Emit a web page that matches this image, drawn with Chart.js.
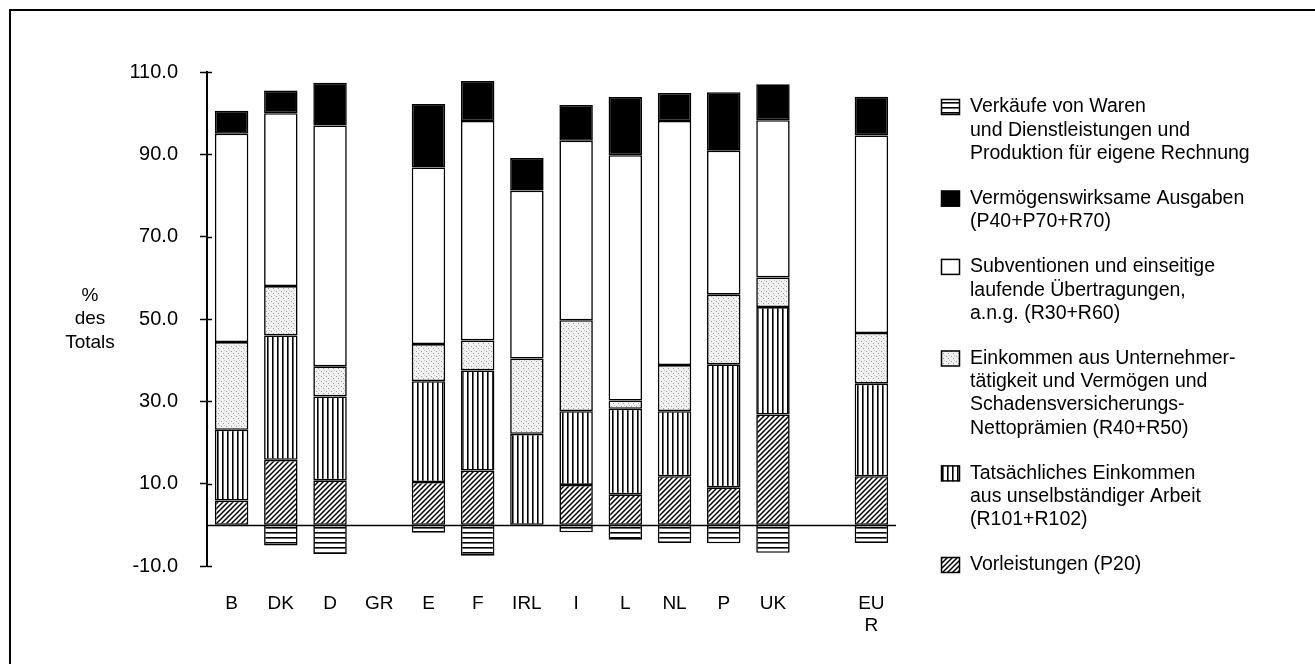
<!DOCTYPE html>
<html>
<head>
<meta charset="utf-8">
<script src="https://cdn.jsdelivr.net/npm/chart.js@4/dist/chart.umd.min.js"></script>
<style>
  html, body { margin: 0; padding: 0; background: #fff; }
  #wrap { position: relative; width: 1315px; height: 664px; }
</style>
</head>
<body>
<div id="wrap"><canvas id="chart" width="1315" height="664"></canvas></div>
<script>
// categories (GR has no data, empty slot before EUR)
const countries = ['B', 'DK', 'D', 'GR', 'E', 'F', 'IRL', 'I', 'L', 'NL', 'P', 'UK', '', ['EU', 'R']];

// % des Totals
const vorleistungen = [5.9, 15.8, 10.8, null, 10.4, 13.2, null, 9.7, 7.4, 11.8, 9.1, 26.8, null, 11.8];
const arbeit        = [17.2, 30.2, 20.4, null, 24.5, 24.3, 22.1, 17.9, 20.8, 15.8, 29.9, 26.1, null, 22.5];
const einkommen     = [21.3, 12.0, 7.3, null, 9.0, 7.3, 18.3, 22.1, 2.0, 11.2, 16.9, 7.2, null, 12.3];
const subventionen  = [50.6, 42.0, 58.5, null, 42.9, 53.3, 40.8, 43.6, 59.6, 59.3, 35.0, 38.2, null, 48.0];
const vermoegen     = [5.6, 5.5, 10.4, null, 15.4, 9.7, 7.9, 8.7, 14.1, 6.8, 14.2, 8.7, null, 9.4];
const verkaeufe     = [null, -5.0, -7.1, null, -1.9, -7.5, null, -1.8, -3.6, -4.4, -4.5, -6.8, null, -4.4];

const yTicks = [-10, 10, 30, 50, 70, 90, 110];
const yTitle = ['%', 'des', 'Totals'];

// legend texts, top to bottom as in the original
const legendVerkaeufe = ['Verkäufe von Waren', 'und Dienstleistungen und', 'Produktion für eigene Rechnung'];
const legendVermoegen = ['Vermögenswirksame Ausgaben', '(P40+P70+R70)'];
const legendSubventionen = ['Subventionen und einseitige', 'laufende Übertragungen,', 'a.n.g. (R30+R60)'];
const legendEinkommen = ['Einkommen aus Unternehmer-', 'tätigkeit und Vermögen und', 'Schadensversicherungs-', 'Nettoprämien (R40+R50)'];
const legendArbeit = ['Tatsächliches Einkommen', 'aus unselbständiger Arbeit', '(R101+R102)'];
const legendVorleistungen = ['Vorleistungen (P20)'];

const FONT = '"Liberation Sans", Arial, Helvetica, sans-serif';

const canvas = document.getElementById('chart');
const ctx = canvas.getContext('2d');

// black & white fill patterns like the printed original
function makePattern(kind) {
    const t = document.createElement('canvas');
    t.width = 5; t.height = 5;
    const g = t.getContext('2d');
    g.fillStyle = '#fff';
    g.fillRect(0, 0, 5, 5);
    g.fillStyle = '#000';
    g.strokeStyle = '#000';
    if (kind === 'vertical') {
        g.fillRect(2, 0, 1.6, 5);
    } else if (kind === 'horizontal') {
        g.fillRect(0, 2, 5, 1.6);
    } else if (kind === 'hatch') {
        g.lineWidth = 1.5;
        g.beginPath();
        g.moveTo(0, 5); g.lineTo(5, 0);
        g.moveTo(-1, 1); g.lineTo(1, -1);
        g.moveTo(4, 6); g.lineTo(6, 4);
        g.stroke();
    } else if (kind === 'dots') {
        g.fillStyle = '#f1f1f1';
        g.fillRect(0, 0, 5, 5);
        g.fillStyle = '#9a9a9a';
        g.fillRect(1, 1, 1, 1);
        g.fillRect(3, 3, 1, 1);
        g.fillStyle = '#c8c8c8';
        g.fillRect(4, 0, 1, 1);
    }
    return ctx.createPattern(t, 'repeat');
}

const fills = {
    hatch: makePattern('hatch'),
    vertical: makePattern('vertical'),
    dots: makePattern('dots'),
    white: '#fff',
    black: '#000',
    horizontal: makePattern('horizontal')
};

function ds(label, data, fill) {
    return {
        label: label,
        data: data,
        backgroundColor: fill,
        borderColor: '#000',
        borderWidth: 1.6,
        borderSkipped: false,
        stack: 's'
    };
}

const legendGroups = [
    { text: legendVerkaeufe, fill: fills.horizontal },
    { text: legendVermoegen, fill: fills.black },
    { text: legendSubventionen, fill: fills.white },
    { text: legendEinkommen, fill: fills.dots },
    { text: legendArbeit, fill: fills.vertical },
    { text: legendVorleistungen, fill: fills.hatch }
];

const extras = {
    id: 'extras',
    beforeDatasetsDraw(chart) {
        // zero line
        const c = chart.ctx, a = chart.chartArea, y = chart.scales.y;
        const y0 = Math.round(y.getPixelForValue(0)) + 0.5;
        c.save();
        c.strokeStyle = '#000';
        c.lineWidth = 1.3;
        c.beginPath();
        c.moveTo(a.left, y0);
        c.lineTo(a.right, y0);
        c.stroke();
        c.restore();
    },
    afterDraw(chart) {
        const c = chart.ctx, a = chart.chartArea, y = chart.scales.y;
        c.save();
        // frame
        c.strokeStyle = '#000';
        c.lineWidth = 2;
        c.beginPath();
        c.moveTo(10, 664);
        c.lineTo(10, 10);
        c.lineTo(1315, 10);
        c.stroke();

        // inner halves of y ticks
        c.lineWidth = 1.5;
        yTicks.forEach(v => {
            const py = Math.round(y.getPixelForValue(v)) + 0.5;
            c.beginPath();
            c.moveTo(a.left, py);
            c.lineTo(a.left + 5, py);
            c.stroke();
        });

        // y title
        c.fillStyle = '#000';
        c.font = '19px ' + FONT;
        c.textAlign = 'center';
        c.textBaseline = 'middle';
        const ym = y.getPixelForValue(50);
        yTitle.forEach((t, i) => c.fillText(t, 90, ym + (i - 1) * 23.5));

        // legend
        c.font = '19.5px ' + FONT;
        c.textAlign = 'left';
        const lx = a.right + 74;
        const sx = a.right + 45;
        const lineH = 23.3;
        const gap = 45;
        let ly = 107;
        legendGroups.forEach(gr => {
            c.fillStyle = gr.fill;
            c.fillRect(sx, ly - 8, 19, 16);
            c.strokeStyle = '#000';
            c.lineWidth = 1.5;
            c.strokeRect(sx + 0.5, ly - 7.5, 18, 15);
            c.fillStyle = '#000';
            gr.text.forEach((t, i) => c.fillText(t, lx, ly + i * lineH));
            ly += (gr.text.length - 1) * lineH + gap;
        });
        c.restore();
    }
};

new Chart(ctx, {
    type: 'bar',
    data: {
        labels: countries,
        datasets: [
            ds('Vorleistungen (P20)', vorleistungen, fills.hatch),
            ds('Tatsächliches Einkommen aus unselbständiger Arbeit (R101+R102)', arbeit, fills.vertical),
            ds('Einkommen aus Unternehmertätigkeit und Vermögen (R40+R50)', einkommen, fills.dots),
            ds('Subventionen und einseitige laufende Übertragungen (R30+R60)', subventionen, fills.white),
            ds('Vermögenswirksame Ausgaben (P40+P70+R70)', vermoegen, fills.black),
            ds('Verkäufe von Waren und Dienstleistungen', verkaeufe, fills.horizontal)
        ]
    },
    options: {
        responsive: false,
        animation: false,
        events: [],
        layout: { padding: { left: 0, right: 419, top: 72, bottom: 0 } },
        datasets: { bar: { categoryPercentage: 1, barPercentage: 0.68 } },
        plugins: {
            legend: { display: false },
            tooltip: { enabled: false }
        },
        scales: {
            x: {
                stacked: true,
                grid: { display: false },
                border: { display: false },
                ticks: {
                    color: '#000',
                    padding: 18,
                    maxRotation: 0,
                    autoSkip: false,
                    font: { family: FONT, size: 19 }
                },
                afterFit: s => { s.height = 98; }
            },
            y: {
                stacked: true,
                min: -10,
                max: 110,
                ticks: {
                    stepSize: 20,
                    color: '#000',
                    padding: 22,
                    font: { family: FONT, size: 20 },
                    callback: v => v.toFixed(1)
                },
                grid: {
                    drawOnChartArea: false,
                    tickLength: 7,
                    tickColor: '#000',
                    tickWidth: 1.5
                },
                border: { display: true, color: '#000', width: 2 },
                afterFit: s => { s.width = 207; }
            }
        }
    },
    plugins: [extras]
});
</script>
</body>
</html>
